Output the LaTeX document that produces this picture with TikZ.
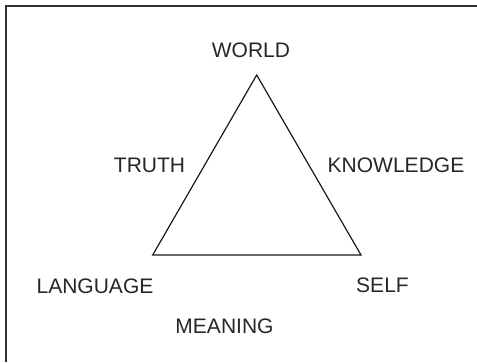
\documentclass[tikz,border=0pt]{standalone}
\usepackage{fontspec}
\setmainfont{Liberation Sans}
\begin{document}
\begin{tikzpicture}[x=1pt,y=-1pt,
  lbl/.style={anchor=base,inner sep=0pt,font=\fontsize{21}{25}\selectfont,text=black!85},
  frameline/.style={line width=1.8pt,draw=black!80},
  triline/.style={line width=1.2pt,draw=black!90,line join=miter}]
\useasboundingbox (0,0) rectangle (477,362);
\coordinate (tl) at (6,6);
\coordinate (tr) at (477,6);
\coordinate (bl) at (6,362);
\draw[frameline] (tr) -- (tl) -- (bl);
\coordinate (apex) at (256.7,75);
\coordinate (left) at (152.7,255);
\coordinate (right) at (361,255);
\draw[triline] (apex) -- (left) -- (right) -- cycle;
\node[lbl] (world) at (251,57) {WORLD};
\node[lbl] (truth) at (149.5,172) {TRUTH};
\node[lbl] (knowledge) at (396,172) {KNOWLEDGE};
\node[lbl] (language) at (95,293) {LANGUAGE};
\node[lbl] (self) at (382.5,292) {SELF};
\node[lbl] (meaning) at (224.5,333) {MEANING};
\end{tikzpicture}
\end{document}
